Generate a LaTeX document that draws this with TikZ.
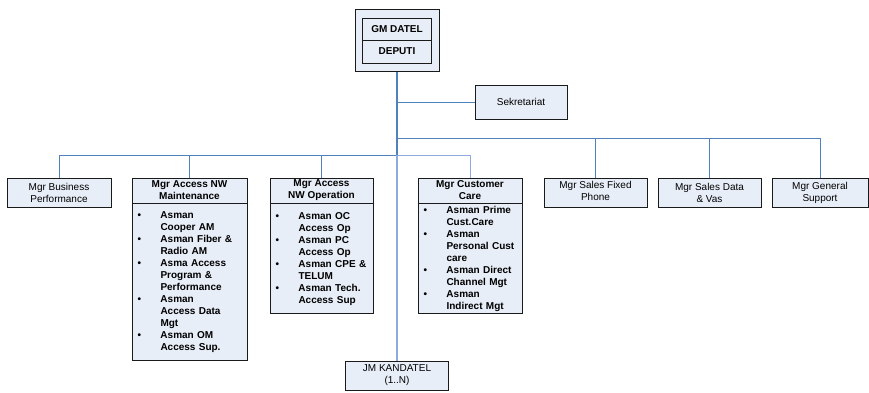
\documentclass[tikz,border=0pt]{standalone}
\usepackage{fontspec}
\setmainfont{Liberation Sans}
\definecolor{boxfill}{HTML}{E8EEF8}
\definecolor{boxline}{HTML}{1A1A1A}
\definecolor{busblue}{HTML}{4F81BD}
\definecolor{buslight}{HTML}{8EA9DB}
\newcommand\myb{\makebox[23pt][l]{\textbullet}}
\newcommand\myi{\hspace*{23pt}}
\begin{document}
\begin{tikzpicture}[x=1pt,y=-1pt,
  box/.style={draw=boxline, fill=boxfill, line width=0.8pt, inner sep=0pt, align=center, font=\fontsize{10}{12}\selectfont},
  hdr/.style={box, font=\fontsize{10}{12}\selectfont\bfseries},
  lst/.style={box, align=left, inner xsep=5.5pt, inner ysep=0pt, font=\fontsize{10}{12}\selectfont\bfseries},
  bus/.style={draw=busblue, line width=1pt},
  buslt/.style={draw=buslight, line width=1pt},
  trunk/.style={draw=busblue, line width=2pt},
  trunklow/.style={draw=buslight, line width=1.2pt}]
\useasboundingbox (0,0) rectangle (869,392);
% top
\node[box, line width=1pt, minimum width=84pt, minimum height=62pt] (gmo) at (397,40) {};
\node[hdr, minimum width=69pt, minimum height=22pt] (gm) at (397,29) {GM DATEL};
\node[hdr, minimum width=69pt, minimum height=23pt] (dep) at (397,51.5) {DEPUTI};
\node[box, minimum width=92pt, minimum height=34pt] (sek) at (521,102) {Sekretariat};
% managers
\node[box, minimum width=104pt, minimum height=29pt] (bp) at (59,192.5) {Mgr Business\\Performance};
\node[hdr, minimum width=115pt, minimum height=25pt] (amh) at (189.5,190.5) {Mgr Access NW\\Maintenance};
\node[lst, anchor=north, text width=104pt, minimum width=115pt, minimum height=157pt] (amb) at (amh.south) {\myb Asman\\\myi Cooper AM\\\myb Asman Fiber \&\\\myi Radio AM\\\myb Asma Access\\\myi Program \&\\\myi Performance\\\myb Asman\\\myi Access Data\\\myi Mgt\\\myb Asman OM\\\myi Access Sup.};
\node[hdr, minimum width=103pt, minimum height=25pt] (oph) at (321.5,190.5) {Mgr Access\\NW Operation};
\node[lst, anchor=north, text width=92pt, minimum width=103pt, minimum height=110pt] (opb) at (oph.south) {\myb Asman OC\\\myi Access Op\\\myb Asman PC\\\myi Access Op\\\myb Asman CPE \&\\\myi TELUM\\\myb Asman Tech.\\\myi Access Sup};
\node[hdr, minimum width=104pt, minimum height=25pt] (cch) at (470,190.5) {Mgr Customer\\Care};
\node[lst, anchor=north, text width=93pt, minimum width=104pt, minimum height=110pt] (ccb) at (cch.south) {\myb Asman Prime\\\myi Cust.Care\\\myb Asman\\\myi Personal Cust\\\myi care\\\myb Asman Direct\\\myi Channel Mgt\\\myb Asman\\\myi Indirect Mgt};
\node[box, minimum width=103pt, minimum height=29pt] (sf) at (595.5,192.5) {\raisebox{3pt}{\begin{tabular}{@{}c@{}}Mgr Sales Fixed\\Phone\end{tabular}}};
\node[box, minimum width=103pt, minimum height=29pt] (sd) at (709.5,192.5) {Mgr Sales Data\\\& Vas};
\node[box, minimum width=96pt, minimum height=29pt] (gs) at (820,192.5) {Mgr General\\Support};
\node[box, minimum width=103pt, minimum height=29pt] (jm) at (397,375.5) {JM KANDATEL\\(1..N)};
% trunk coordinates
\coordinate (t1) at (397,102);
\coordinate (t2) at (397,138);
\coordinate (t3) at (397,155);
% connectors
\draw[bus] (t1) -- (sek.west);
\draw[bus] (t2) -| (gs.north);
\draw[bus] (t2 -| sf.north) -- (sf.north);
\draw[bus] (t2 -| sd.north) -- (sd.north);
\draw[bus] (bp.north) |- (t3);
\draw[bus] (amh.north) -- (amh.north |- t3);
\draw[bus] (oph.north) -- (oph.north |- t3);
\draw[buslt] (t3) -| (cch.north);
\draw[trunklow] (t3) -- (jm.north);
\draw[trunk] (gmo.south) -- (t3);
\end{tikzpicture}
\end{document}
